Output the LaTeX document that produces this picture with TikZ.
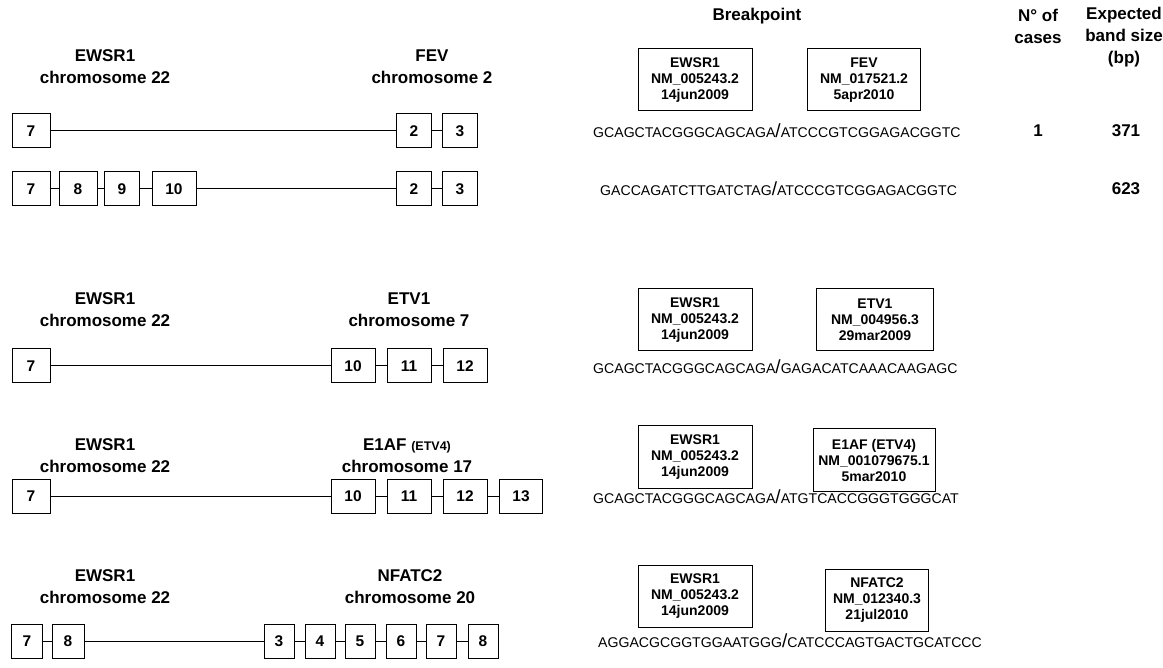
\documentclass[tikz,border=0pt]{standalone}
\usepackage{fontspec}
\setmainfont{Liberation Sans}
\newcommand{\genefont}{\fontsize{17}{22}\selectfont\bfseries}
\newcommand{\exonfont}{\fontsize{15.5}{16}\selectfont\bfseries}
\newcommand{\reffont}{\fontsize{14}{16}\selectfont\bfseries}
\newcommand{\seqfont}{\fontsize{14.1}{18}\selectfont}
\newcommand{\cut}{{\fontsize{19}{18}\selectfont/}}
\tikzset{
    exon/.style={draw, line width=1pt, minimum width=#1, minimum height=34,
        inner sep=0pt, font=\exonfont},
    exon/.default=38,
    gene/.style={align=center, font=\genefont},
    refbox/.style={draw, line width=1pt, align=center, font=\reffont,
        minimum width=114, minimum height=62, inner sep=2pt},
    seq/.style={anchor=west, inner sep=0pt, font=\seqfont},
    intron/.style={line width=1pt},
}
\begin{document}
\begin{tikzpicture}[x=1pt, y=-1pt]
    \useasboundingbox (0,0) rectangle (1163,668);

    % column headers
    \node[gene] (hbreak) at (757,16) {Breakpoint};
    \node[gene] (hcases) at (1038,26) {N° of\\cases};
    \node[gene] (hband) at (1124,37) {Expected\\band size\\(bp)};

    % 5' partner, always the same
    \foreach \y/\n in {67/a, 310/c, 456/d, 587/e} {
        \node[gene] (l\n) at (105,\y) {EWSR1\\chromosome 22};
    }
    \foreach \y/\n in {80/a, 320/c, 457/d, 596/e} {
        \node[refbox] (r\n) at (695,\y) {EWSR1\\NM\_005243.2\\14jun2009};
    }

    % EWSR1-FEV, two breakpoints
    \node[gene] (fa) at (432,67) {FEV\\chromosome 2};
    \node[refbox, minimum width=113] (ga) at (864,80) {FEV\\NM\_017521.2\\5apr2010};

    \node[exon] (a7) at (31,131) {7};
    \node[exon=35] (a2) at (414,131) {2};
    \node[exon=35] (a3) at (460,131) {3};
    \draw[intron] (a7) -- (a2);
    \draw[intron] (a2) -- (a3);
    \node[seq] (sa) at (593,131) {GCAGCTACGGGCAGCAGA\cut ATCCCGTCGGAGACGGTC};
    \node[gene] (na) at (1038,131) {1};
    \node[gene] (ba) at (1126,131) {371};

    \node[exon] (b7) at (31,189) {7};
    \node[exon] (b8) at (78,189) {8};
    \node[exon=35] (b9) at (122,189) {9};
    \node[exon=44] (b10) at (174,189) {10};
    \node[exon=35] (b2) at (414,189) {2};
    \node[exon=35] (b3) at (460,189) {3};
    \draw[intron] (b7) -- (b8) -- (b9) -- (b10) -- (b2) -- (b3);
    \node[seq] (sb) at (600,189) {GACCAGATCTTGATCTAG\cut ATCCCGTCGGAGACGGTC};
    \node[gene] (bb) at (1126,189) {623};

    % EWSR1-ETV1
    \node[gene] (fc) at (409,310) {ETV1\\chromosome 7};
    \node[refbox, minimum width=117] (gc) at (875,320) {ETV1\\NM\_004956.3\\29mar2009};
    \node[exon] (c7) at (31,366) {7};
    \node[exon=44] (c10) at (353,366) {10};
    \node[exon=44] (c11) at (409,366) {11};
    \node[exon=44] (c12) at (465,366) {12};
    \draw[intron] (c7) -- (c10) -- (c11) -- (c12);
    \node[seq] (sc) at (593,367) {GCAGCTACGGGCAGCAGA\cut GAGACATCAAACAAGAGC};

    % EWSR1-E1AF
    \node[gene] (fd) at (407,456) {E1AF {\fontsize{12.5}{14}\selectfont(ETV4)}\\chromosome 17};
    \node[refbox, minimum width=122] (gd) at (874,460) {E1AF (ETV4)\\NM\_001079675.1\\5mar2010};
    \node[exon] (d7) at (31,496) {7};
    \node[exon=44] (d10) at (353,496) {10};
    \node[exon=44] (d11) at (409,496) {11};
    \node[exon=44] (d12) at (465,496) {12};
    \node[exon=43] (d13) at (521,496) {13};
    \draw[intron] (d7) -- (d10) -- (d11) -- (d12) -- (d13);
    \node[seq] (sd) at (593,497) {GCAGCTACGGGCAGCAGA\cut ATGTCACCGGGTGGGCAT};

    % EWSR1-NFATC2
    \node[gene] (fe) at (410,587) {NFATC2\\chromosome 20};
    \node[refbox, minimum width=103] (ge) at (877,600) {NFATC2\\NM\_012340.3\\21jul2010};
    \node[exon=31] (e7) at (27,641) {7};
    \node[exon=32] (e8) at (68,641) {8};
    \draw[intron] (e7) -- (e8);
    \foreach \k/\x in {3/279, 4/320, 5/360, 6/401, 7/441, 8/483} {
        \node[exon=30] (n\k) at (\x,641) {\k};
    }
    \draw[intron] (e8) -- (n3) -- (n4) -- (n5) -- (n6) -- (n7) -- (n8);
    \node[seq] (se) at (598,641) {AGGACGCGGTGGAATGGG\cut CATCCCAGTGACTGCATCCC};
\end{tikzpicture}
\end{document}
